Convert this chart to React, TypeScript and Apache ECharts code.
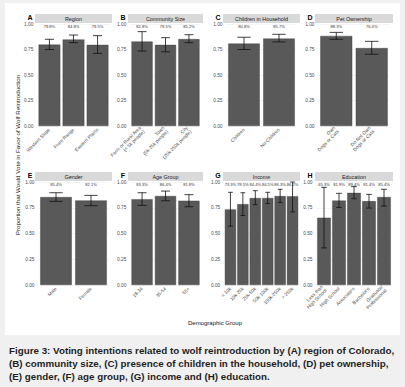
import React, { useEffect, useRef } from "react";
import * as echarts from "echarts";

// ---------- data ----------
const regionCats = ["Western Slope", "Front Range", "Eastern Plains"];
const regionPct = [79.8, 84.8, 79.5];
const regionLo = [0.75, 0.817, 0.712];
const regionHi = [0.85, 0.892, 0.886];

const communityCats = ["Farm or Rural Area\n(< 5k people)", "Town\n(5k-25k people)", "City\n(25k-250k people)"];
const communityPct = [82.8, 79.5, 85.2];
const communityLo = [0.735, 0.727, 0.817];
const communityHi = [0.925, 0.866, 0.895];

const childrenCats = ["Children", "No Children"];
const childrenPct = [80.8, 85.7];
const childrenLo = [0.75, 0.824];
const childrenHi = [0.87, 0.899];

const petCats = ["Own\nDogs or Cats", "Do Not Own\nDogs or Cats"];
const petPct = [88.3, 76.4];
const petLo = [0.85, 0.703];
const petHi = [0.918, 0.83];

const genderCats = ["Male", "Female"];
const genderPct = [85.4, 82.1];
const genderLo = [0.812, 0.77];
const genderHi = [0.896, 0.87];

const ageCats = ["18-34", "35-54", "55+"];
const agePct = [83.3, 86.4, 81.8];
const ageLo = [0.773, 0.818, 0.76];
const ageHi = [0.896, 0.912, 0.877];

const incomeCats = ["< 10k", "10k-25k", "25k-50k", "50k-100k", "100k-250k", "> 250k"];
const incomePct = [73.3, 78.5, 84.4, 84.5, 86.3, 86.2];
const incomeLo = [0.571, 0.675, 0.78, 0.79, 0.8, 0.71];
const incomeHi = [0.9, 0.896, 0.916, 0.9, 0.929, 1.0];

const educationCats = ["Less than\nHigh School", "High School", "Associate's", "Bachelor's", "Graduate/\nProfessional"];
const educationPct = [65.3, 81.9, 89.4, 81.4, 85.4];
const educationLo = [0.36, 0.753, 0.838, 0.747, 0.766];
const educationHi = [0.948, 0.89, 0.955, 0.88, 0.929];

const yTicks = [0, 0.25, 0.5, 0.75, 1];

const panels = [
  { letter: "A", title: "Region", cats: regionCats, pct: regionPct, lo: regionLo, hi: regionHi, italic: false },
  { letter: "B", title: "Community Size", cats: communityCats, pct: communityPct, lo: communityLo, hi: communityHi, italic: false },
  { letter: "C", title: "Children in Household", cats: childrenCats, pct: childrenPct, lo: childrenLo, hi: childrenHi, italic: false },
  { letter: "D", title: "Pet Ownership", cats: petCats, pct: petPct, lo: petLo, hi: petHi, italic: false },
  { letter: "E", title: "Gender", cats: genderCats, pct: genderPct, lo: genderLo, hi: genderHi, italic: true },
  { letter: "F", title: "Age Group", cats: ageCats, pct: agePct, lo: ageLo, hi: ageHi, italic: false },
  { letter: "G", title: "Income", cats: incomeCats, pct: incomePct, lo: incomeLo, hi: incomeHi, italic: false },
  { letter: "H", title: "Education", cats: educationCats, pct: educationPct, lo: educationLo, hi: educationHi, italic: false },
];

const captionLines = [
  "Figure 3: Voting intentions related to wolf reintroduction by (A) region of Colorado,",
  "(B) community size, (C) presence of children in the household, (D) pet ownership,",
  "(E) gender, (F) age group, (G) income and (H) education.",
];

// ---------- layout ----------
const W = 405;
const H = 387;
const colX = [
  [35, 112],
  [128, 203],
  [223, 300],
  [315, 393],
];
const rowY = [
  [24, 126],
  [182, 285],
];
const FONT = "'Liberation Sans', Arial, sans-serif";

function buildOption() {
  const grid: any[] = [];
  const xAxis: any[] = [];
  const yAxis: any[] = [];
  const series: any[] = [];
  const graphic: any[] = [];

  panels.forEach((p, i) => {
    const col = i % 4;
    const row = Math.floor(i / 4);
    const [x0, x1] = colX[col];
    const [y0, y1] = rowY[row];
    const n = p.cats.length;
    const unit = (x1 - x0) / (n + 0.2);
    grid.push({ left: x0 + 0.1 * unit, width: x1 - x0 - 0.2 * unit, top: y0, height: y1 - y0, containLabel: false });
    xAxis.push({
      type: "category",
      gridIndex: i,
      data: p.cats,
      axisLine: { show: false },
      axisTick: { show: false },
      axisLabel: {
        interval: 0,
        rotate: 45,
        fontSize: 4.8,
        lineHeight: 5.2,
        color: "#4d4d4d",
        margin: 3,
        fontFamily: FONT,
        align: "right",
      },
    });
    yAxis.push({
      type: "value",
      gridIndex: i,
      min: 0,
      max: 1,
      interval: 0.25,
      axisLine: { show: false },
      axisTick: { show: false },
      axisLabel: {
        fontSize: 4.8,
        color: "#4d4d4d",
        margin: 4,
        fontFamily: FONT,
        formatter: (v: number) => (yTicks.includes(v) ? v.toFixed(2) : ""),
      },
      splitLine: { lineStyle: { color: "#ececec", width: 0.6 } },
    });
    series.push({
      type: "bar",
      xAxisIndex: i,
      yAxisIndex: i,
      data: p.pct.map((v) => v / 100),
      barCategoryGap: "10%",
      itemStyle: { color: "#595959", borderColor: "#3a3a3a", borderWidth: 0.4 },
      silent: true,
    });
    series.push({
      type: "custom",
      xAxisIndex: i,
      yAxisIndex: i,
      data: p.cats.map((_, k) => [k, p.lo[k], p.hi[k]]),
      renderItem: (params: any, api: any) => {
        const k = api.value(0);
        const lo = api.coord([k, api.value(1)]);
        const hi = api.coord([k, api.value(2)]);
        const half = api.size([1, 0])[0] * 0.19;
        const st = { stroke: "#111", lineWidth: 0.8 };
        return {
          type: "group",
          children: [
            { type: "line", shape: { x1: lo[0], y1: lo[1], x2: hi[0], y2: hi[1] }, style: st },
            { type: "line", shape: { x1: lo[0] - half, y1: lo[1], x2: lo[0] + half, y2: lo[1] }, style: st },
            { type: "line", shape: { x1: hi[0] - half, y1: hi[1], x2: hi[0] + half, y2: hi[1] }, style: st },
          ],
        };
      },
      z: 5,
      silent: true,
    });
    series.push({
      type: "custom",
      xAxisIndex: i,
      yAxisIndex: i,
      data: p.cats.map((_, k) => [k, 0.972]),
      renderItem: (params: any, api: any) => {
        const k = api.value(0);
        const pt = api.coord([k, api.value(1)]);
        return {
          type: "text",
          x: pt[0],
          y: pt[1],
          style: {
            text: p.pct[k].toFixed(1) + "%",
            fill: "#333",
            fontSize: 4.1,
            fontFamily: FONT,
            align: "center",
            verticalAlign: "middle",
          },
        };
      },
      z: 6,
      silent: true,
    });
    // strip header
    graphic.push({
      type: "rect",
      shape: { x: x0, y: y0 - 10, width: x1 - x0, height: 9 },
      style: { fill: "#d9d9d9" },
      z: 1,
    });
    graphic.push({
      type: "text",
      x: (x0 + x1) / 2,
      y: y0 - 5.5,
      style: {
        text: p.title,
        fill: "#1a1a1a",
        fontSize: 5.4,
        fontFamily: FONT,
        fontStyle: p.italic ? "italic" : "normal",
        align: "center",
        verticalAlign: "middle",
      },
      z: 2,
    });
    graphic.push({
      type: "text",
      x: x0 - 5,
      y: y0 - 7,
      style: {
        text: p.letter,
        fill: "#000",
        fontSize: 7,
        fontWeight: "bold",
        fontFamily: FONT,
        align: "center",
        verticalAlign: "middle",
      },
      z: 2,
    });
  });

  graphic.push({
    type: "text",
    x: 17,
    y: 155,
    rotation: Math.PI / 2,
    style: {
      text: "Proportion that Would Vote in Favor of Wolf Reintroduction",
      fill: "#111",
      fontSize: 6.2,
      fontFamily: FONT,
      align: "center",
      verticalAlign: "middle",
    },
  });
  graphic.push({
    type: "text",
    x: 215,
    y: 323,
    style: {
      text: "Demographic Group",
      fill: "#111",
      fontSize: 6,
      fontFamily: FONT,
      align: "center",
      verticalAlign: "middle",
    },
  });
  captionLines.forEach((t, k) => {
    graphic.push({
      type: "text",
      x: 9,
      y: 350 + k * 13.2,
      style: {
        text: t,
        fill: "#1f1f1f",
        fontSize: 9.8,
        fontWeight: "bold",
        fontFamily: FONT,
        align: "left",
        verticalAlign: "middle",
      },
    });
  });

  return {
    animation: false,
    backgroundColor: "transparent",
    grid,
    xAxis,
    yAxis,
    series,
    graphic,
  };
}

export default function App() {
  const ref = useRef<HTMLDivElement>(null);
  useEffect(() => {
    if (!ref.current) return;
    const chart = echarts.init(ref.current, undefined, { renderer: "svg" });
    chart.setOption(buildOption() as any);
    return () => chart.dispose();
  }, []);
  return (
    <div style={{ position: "fixed", left: 0, top: 0, width: W, height: H, background: "#f0f0f0", overflow: "hidden" }}>
      <div style={{ position: "absolute", left: 5, top: 3, width: 395, height: 332, background: "#ffffff" }} />
      <div ref={ref} style={{ position: "absolute", left: 0, top: 0, width: W, height: H }} />
    </div>
  );
}
